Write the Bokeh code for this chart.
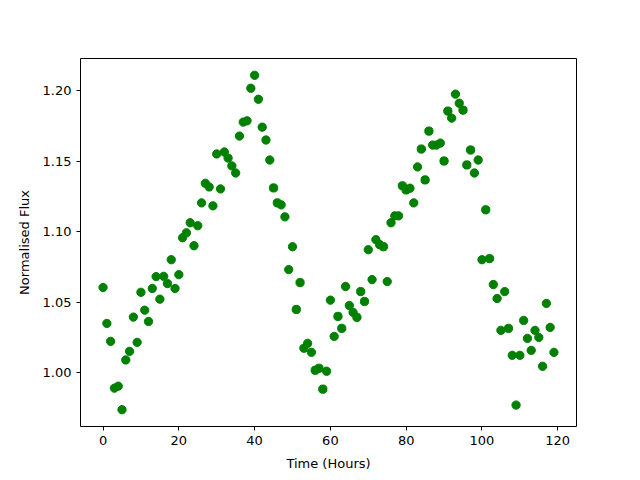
from bokeh.plotting import figure
from bokeh.models import Range1d, FixedTicker, NumeralTickFormatter
from bokeh.embed import file_html
from bokeh.resources import INLINE

hours = list(range(120))
flux = [
    1.0606, 1.0351, 1.0224, 0.9892, 0.9906, 0.9739, 1.0092, 1.0153, 1.0396, 1.0217,
    1.0572, 1.0445, 1.0365, 1.0599, 1.0683, 1.0523, 1.0685, 1.0634, 1.0803, 1.0599,
    1.0697, 1.0959, 1.0994, 1.1065, 1.0902, 1.1044, 1.1206, 1.1345, 1.1319, 1.1185,
    1.1553, 1.1305, 1.1567, 1.1524, 1.1468, 1.1418, 1.1680, 1.1779, 1.1788, 1.2019,
    1.2111, 1.1941, 1.1743, 1.1652, 1.1510, 1.1312, 1.1206, 1.1192, 1.1107, 1.0733,
    1.0895, 1.0450, 1.0641, 1.0175, 1.0210, 1.0146, 1.0019, 1.0033, 0.9885, 1.0012,
    1.0516, 1.0259, 1.0401, 1.0316, 1.0613, 1.0478, 1.0429, 1.0394, 1.0577, 1.0507,
    1.0874, 1.0662, 1.0945, 1.0910, 1.0895, 1.0648, 1.1065, 1.1114, 1.1114, 1.1327,
    1.1298, 1.1310, 1.1206, 1.1461, 1.1588, 1.1369, 1.1715, 1.1616, 1.1616, 1.1630,
    1.1503, 1.1857, 1.1807, 1.1977, 1.1913, 1.1864, 1.1475, 1.1581, 1.1418, 1.1510,
    1.0803, 1.1157, 1.0811, 1.0627, 1.0528, 1.0302, 1.0577, 1.0316, 1.0125, 0.9772,
    1.0125, 1.0372, 1.0245, 1.0160, 1.0302, 1.0252, 1.0047, 1.0493, 1.0323, 1.0146,
]
x_ticks = [0, 20, 40, 60, 80, 100, 120]
y_ticks = [1.00, 1.05, 1.10, 1.15, 1.20]

p = figure(output_backend="svg", toolbar_location=None,
           frame_width=496, frame_height=368,
           min_border_left=80, min_border_top=58, min_border_right=60, min_border_bottom=50,
           x_range=Range1d(-5.95, 124.95), y_range=Range1d(0.9620, 1.2230))
p.scatter(hours, flux, size=8.3, color="green", line_color="green")

p.xgrid.visible = False
p.ygrid.visible = False
p.outline_line_color = "black"
p.outline_line_width = 1
p.outline_line_alpha = 1

p.xaxis.ticker = FixedTicker(ticks=x_ticks)
p.yaxis.ticker = FixedTicker(ticks=y_ticks)
p.yaxis.formatter = NumeralTickFormatter(format="0.00")
p.xaxis.axis_label = "Time (Hours)"
p.yaxis.axis_label = "Normalised Flux"
for ax in (p.xaxis, p.yaxis):
    ax.axis_line_color = None
    ax.major_tick_in = 0
    ax.major_tick_out = 4
    ax.minor_tick_line_color = None
    ax.major_tick_line_color = "black"
    ax.major_label_text_font = "DejaVu Sans"
    ax.major_label_text_font_size = "13px"
    ax.major_label_text_color = "black"
    ax.axis_label_text_font = "DejaVu Sans"
    ax.axis_label_text_font_size = "13px"
    ax.axis_label_text_font_style = "normal"
    ax.axis_label_text_color = "black"
p.xaxis.major_label_standoff = 5
p.yaxis.major_label_standoff = 5
p.xaxis.axis_label_standoff = 8
p.yaxis.axis_label_standoff = 8

open("out.html", "w").write(file_html(p, INLINE))
